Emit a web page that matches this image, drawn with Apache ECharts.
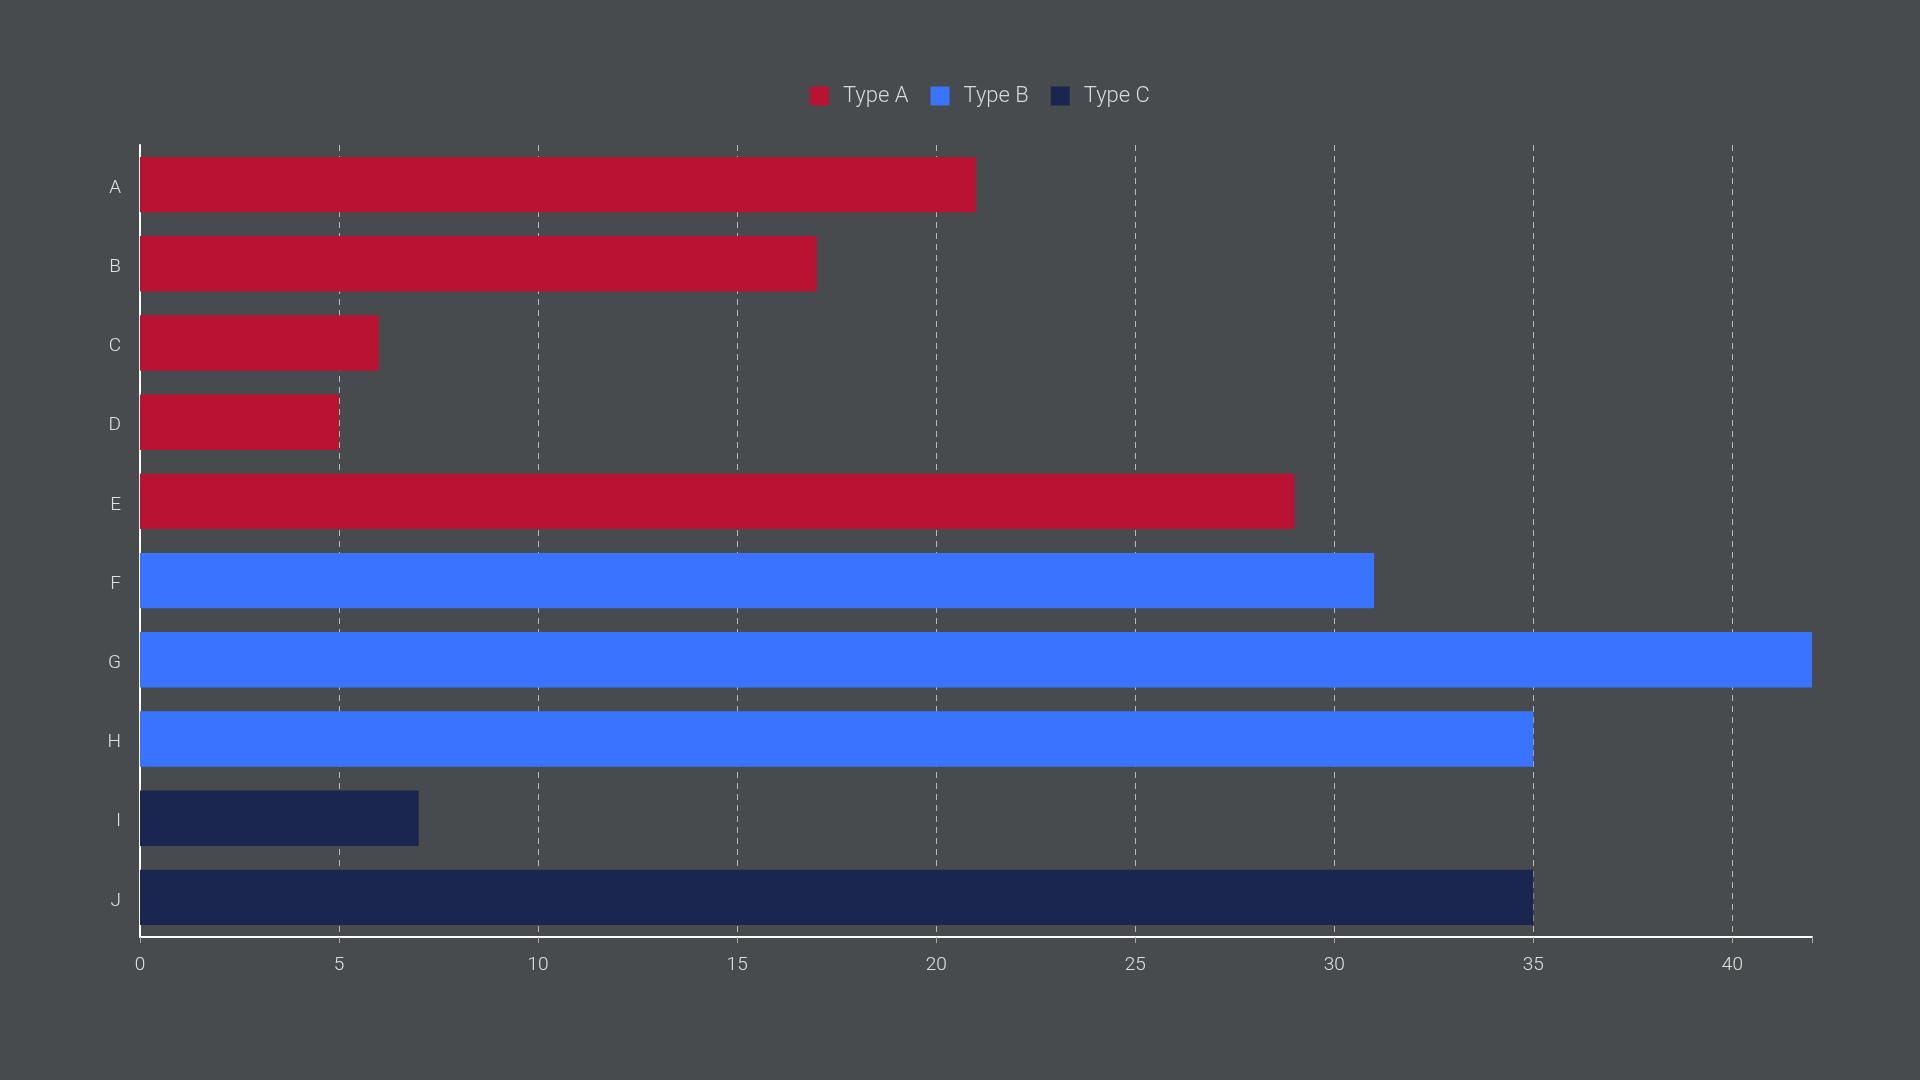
<!DOCTYPE html>
<html><head><meta charset="utf-8">
<script src="https://cdn.jsdelivr.net/npm/echarts@6/dist/echarts.min.js"></script>
<style>html,body{margin:0;padding:0;background:#474b4e;}#c{width:1920px;height:1080px;}</style>
</head><body><div id="c"></div>
<script>
const categories = ['A','B','C','D','E','F','G','H','I','J'];
const typeA = [21, 17, 6, 5, 29, null, null, null, null, null];
const typeB = [null, null, null, null, null, 31, 42, 35, null, null];
const typeC = [null, null, null, null, null, null, null, null, 7, 35];
const xTicks = [0, 5, 10, 15, 20, 25, 30, 35, 40];

const chart = echarts.init(document.getElementById('c'));
const font = 'Roboto';
chart.setOption({
  backgroundColor: '#474b4e',
  animation: false,
  legend: {
    top: 80, left: 805,
    itemWidth: 19, itemHeight: 19, itemGap: 22,
    icon: 'rect',
    textStyle: { color: '#d8d8d8', fontSize: 22, fontFamily: font, fontWeight: 300, padding: [0,0,0,9] },
    data: ['Type A','Type B','Type C']
  },
  grid: { left: 140, right: 108, top: 145, bottom: 143, containLabel: false },
  xAxis: {
    type: 'value', min: 0, max: 42, interval: 5,
    axisLine: { show: true, lineStyle: { color: '#ffffff', width: 2 } },
    axisTick: { show: true, length: 6, lineStyle: { color: '#aaaaaa' } },
    axisLabel: { color: '#e0e0e0', fontSize: 19, fontFamily: font, fontWeight: 300, margin: 19,
      formatter: v => xTicks.includes(v) ? String(v) : '' },
    splitLine: { show: true, showMaxLine: false, lineStyle: { color: '#b8b8b8', type: [6, 5], width: 1 } }
  },
  yAxis: {
    type: 'category', data: categories, inverse: true,
    axisLine: { show: true, lineStyle: { color: '#ffffff', width: 2 } },
    axisTick: { show: false },
    axisLabel: { margin: 19,
      formatter: v => '{a|' + v + '}',
      rich: { a: { color: '#e0e0e0', fontSize: 19, fontFamily: font, fontWeight: 300, padding: [7,0,0,0] } } },
    splitLine: { show: false }
  },
  series: [
    { name: 'Type A', type: 'bar', stack: 's', data: typeA, itemStyle: { color: '#ba1232' }, barCategoryGap: '30%' },
    { name: 'Type B', type: 'bar', stack: 's', data: typeB, itemStyle: { color: '#3874ff' }, barCategoryGap: '30%' },
    { name: 'Type C', type: 'bar', stack: 's', data: typeC, itemStyle: { color: '#1a2550' }, barCategoryGap: '30%' }
  ]
});
</script></body></html>
